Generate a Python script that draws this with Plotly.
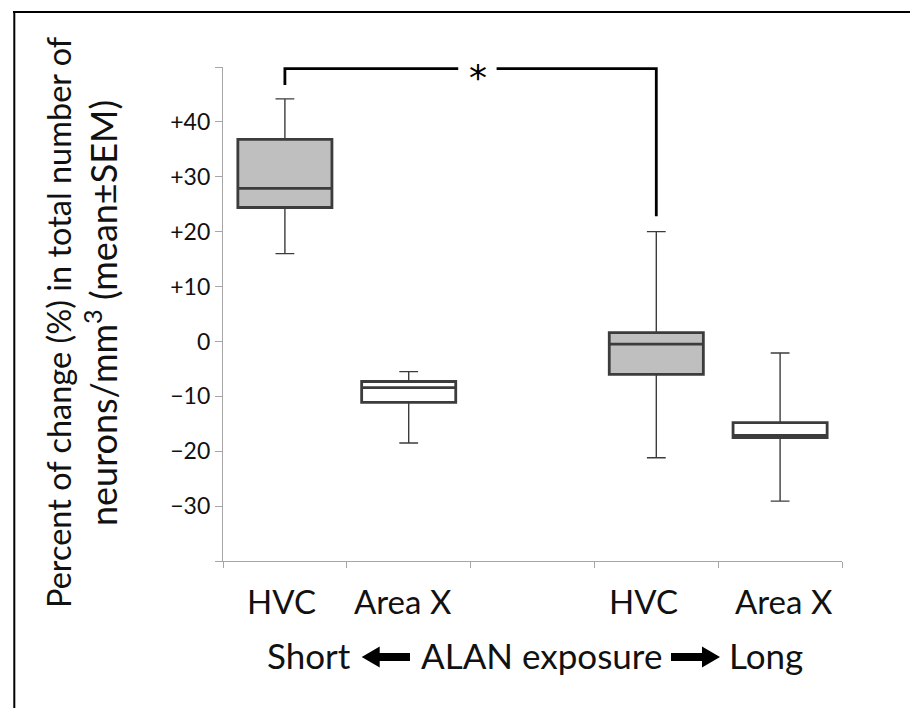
import plotly.graph_objects as go

# ---------------- data ----------------
categories = ["HVC", "Area X", "HVC", "Area X"]
exposure = ["Short", "Short", "Long", "Long"]
x_pos = [0, 1, 3, 4]
lower_whisker = [16.0, -18.5, -21.2, -29.1]
q1 = [24.4, -11.1, -6.0, -17.5]
median = [27.9, -8.4, -0.5, -17.1]
q3 = [36.8, -7.3, 1.6, -14.8]
upper_whisker = [44.2, -5.5, 20.0, -2.1]
fill_colors = ["#bfbfbf", "#ffffff", "#bfbfbf", "#ffffff"]

y_tick_vals = [-30, -20, -10, 0, 10, 20, 30, 40]
y_tick_text = ["\u221230", "\u221220", "\u221210", "0", "+10", "+20", "+30", "+40"]
x_tick_vals = [-0.5, 0.5, 1.5, 2.5, 3.5, 4.5]

bracket_y = 49.7
bracket_left_end = 46.7
bracket_right_end = 22.8
bracket_gap = [1.40, 1.71]
star_x = 1.56
label_shift = [-3, -6, -13, 4]

# ---------------- layout geometry ----------------
W_FIG, H_FIG = 910, 708
L, R, T, B = 223, 68, 67, 147
PW, PH = W_FIG - L - R, H_FIG - T - B


def fx(px):
    return (px - L) / PW


def fy(py):
    return (T + PH - py) / PH


FONT = "Lato"
TXT = "#111111"
EDGE = "#3c3c3c"
AX = "#a6a6a6"

fig = go.Figure()

for i in range(len(x_pos)):
    # thin whiskers + caps
    fig.add_trace(go.Box(
        x=[x_pos[i]], q1=[q1[i]], median=[median[i]], q3=[q3[i]],
        lowerfence=[lower_whisker[i]], upperfence=[upper_whisker[i]],
        width=0.76, whiskerwidth=0.2, fillcolor=fill_colors[i],
        line=dict(color=EDGE, width=1.4), boxpoints=False,
        showlegend=False, hoverinfo="skip",
    ))
    # thick box outline + median
    fig.add_trace(go.Box(
        x=[x_pos[i]], q1=[q1[i]], median=[median[i]], q3=[q3[i]],
        lowerfence=[q1[i]], upperfence=[q3[i]],
        width=0.76, whiskerwidth=0, fillcolor=fill_colors[i],
        line=dict(color=EDGE, width=2.8), boxpoints=False,
        showlegend=False, hoverinfo="skip",
    ))

shapes = []
# significance bracket
shapes.append(dict(type="path", xref="x", yref="y",
                   path=f"M {x_pos[0]},{bracket_left_end} V {bracket_y} H {bracket_gap[0]}",
                   line=dict(color="black", width=2.8)))
shapes.append(dict(type="path", xref="x", yref="y",
                   path=f"M {bracket_gap[1]},{bracket_y} H {x_pos[2]} V {bracket_right_end}",
                   line=dict(color="black", width=2.8)))

# frame lines (top and left of the picture border)
shapes.append(dict(type="line", xref="paper", yref="paper",
                   x0=fx(13), x1=fx(912), y0=fy(12), y1=fy(12),
                   line=dict(color="black", width=2)))
shapes.append(dict(type="line", xref="paper", yref="paper",
                   x0=fx(14.3), x1=fx(14.3), y0=fy(12), y1=fy(710),
                   line=dict(color="black", width=2)))


def arrow(tip, tail, yc, head_len=18, head_half=10.5, shaft_half=4):
    d = 1 if tail > tip else -1
    hb = tip + d * head_len
    pts = [(tip, yc), (hb, yc - head_half), (hb, yc - shaft_half), (tail, yc - shaft_half),
           (tail, yc + shaft_half), (hb, yc + shaft_half), (hb, yc + head_half)]
    p = "M " + " L ".join(f"{fx(a):.5f},{fy(b):.5f}" for a, b in pts) + " Z"
    return dict(type="path", xref="paper", yref="paper", path=p,
                fillcolor="black", line=dict(color="black", width=0))


shapes.append(arrow(361.7, 410, 657))
shapes.append(arrow(720, 671, 657))

annotations = []
# category labels
for i in range(len(x_pos)):
    annotations.append(dict(x=x_pos[i], y=fy(600.5), xref="x", yref="paper",
                            text=categories[i], showarrow=False, xanchor="center",
                            yanchor="middle", xshift=label_shift[i],
                            font=dict(family=FONT, size=33, color=TXT)))
# exposure label
annotations.append(dict(x=fx(353), y=fy(655), xref="paper", yref="paper", text="Short",
                        showarrow=False, xanchor="right", yanchor="middle",
                        font=dict(family=FONT, size=35, color=TXT)))
annotations.append(dict(x=fx(541), y=fy(655), xref="paper", yref="paper", text="ALAN exposure",
                        showarrow=False, xanchor="center", yanchor="middle",
                        font=dict(family=FONT, size=35, color=TXT)))
annotations.append(dict(x=fx(727), y=fy(655), xref="paper", yref="paper", text="Long",
                        showarrow=False, xanchor="left", yanchor="middle",
                        font=dict(family=FONT, size=35, color=TXT)))
# star
annotations.append(dict(x=star_x, y=48.0, xref="x", yref="y", text="*", showarrow=False,
                        xanchor="center", yanchor="middle",
                        font=dict(family="DejaVu Sans", size=36, color="black")))
# y-axis title (two lines)
annotations.append(dict(x=fx(58), y=fy(322), xref="paper", yref="paper",
                        text="Percent of change (%) in total number of",
                        textangle=-90, showarrow=False, xanchor="center", yanchor="middle",
                        font=dict(family=FONT, size=32.5, color=TXT)))
annotations.append(dict(x=fx(101), y=fy(313), xref="paper", yref="paper",
                        text="neurons/mm<sup>3</sup> (mean\u00b1SEM)",
                        textangle=-90, showarrow=False, xanchor="center", yanchor="middle",
                        font=dict(family=FONT, size=36, color=TXT)))

fig.update_layout(
    width=W_FIG, height=H_FIG,
    margin=dict(l=L, r=R, t=T, b=B, pad=0),
    autosize=False,
    paper_bgcolor="white", plot_bgcolor="white",
    boxmode="overlay",
    shapes=shapes, annotations=annotations,
    xaxis=dict(range=[-0.5, 4.5], tickvals=x_tick_vals, showticklabels=False,
               showline=True, linecolor=AX, linewidth=1.3, ticks="outside",
               ticklen=6, tickcolor=AX, tickwidth=1.3, showgrid=False,
               zeroline=False, fixedrange=True),
    yaxis=dict(range=[-40, 50], tickvals=y_tick_vals, ticktext=y_tick_text,
               showline=True, linecolor=AX, linewidth=1.3, ticks="outside",
               ticklen=7, tickcolor=AX, tickwidth=1.3, showgrid=False,
               zeroline=False, fixedrange=True,
               minor=dict(tick0=0, dtick=10, ticks="outside", ticklen=7,
                          tickcolor=AX, tickwidth=1.3, showgrid=False),
               tickfont=dict(family=FONT, size=23, color=TXT)),
)

fig.write_html("out.html", config={"displayModeBar": False})
